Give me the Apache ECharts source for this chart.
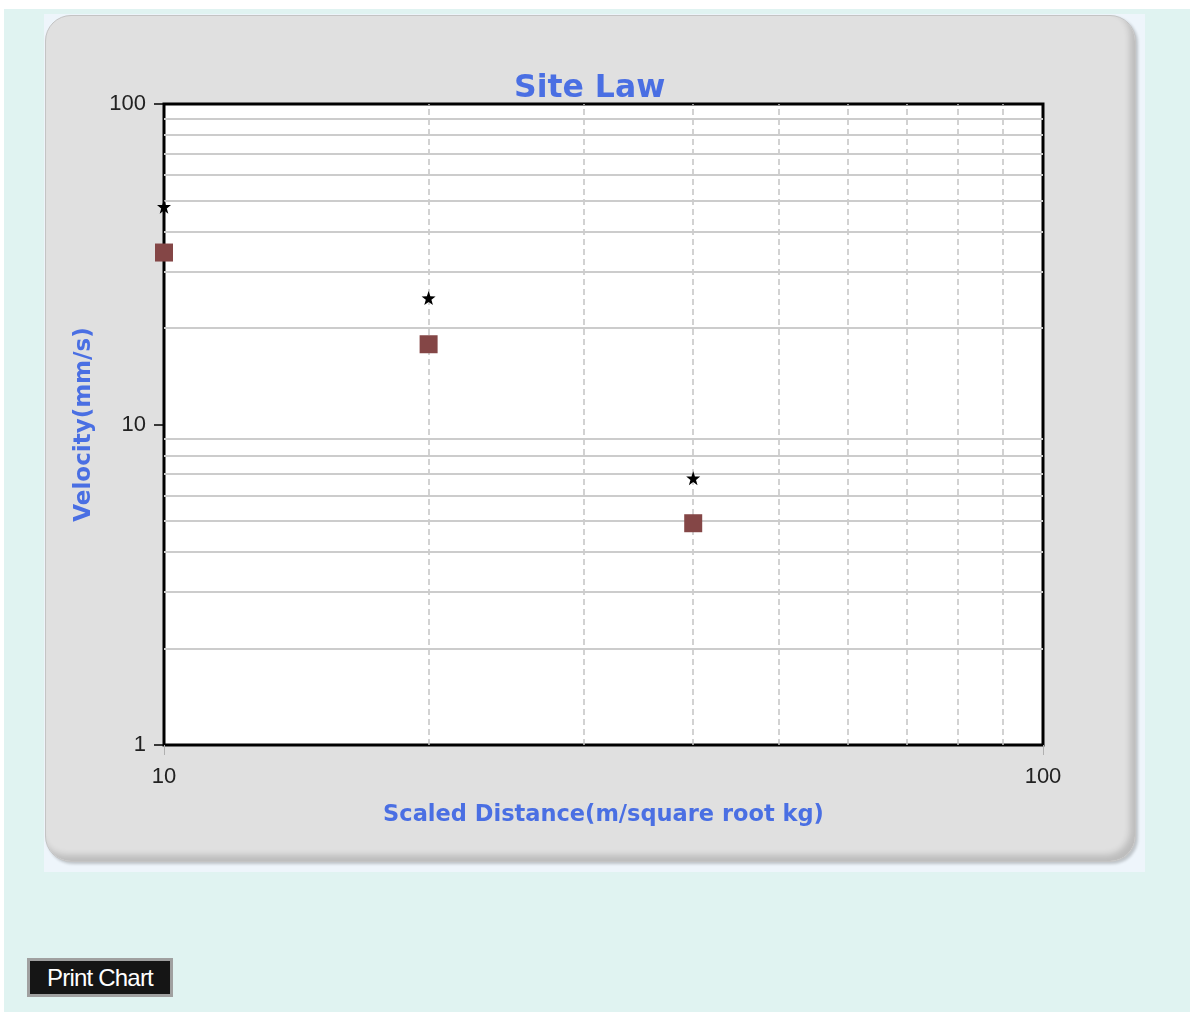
<!DOCTYPE html>
<html>
<head>
<meta charset="utf-8">
<title>Site Law</title>
<script src="https://cdn.jsdelivr.net/npm/echarts@6/dist/echarts.min.js"></script>
<style>
  html, body { margin: 0; padding: 0; background: #fff; }
  .page {
    position: absolute; left: 4px; top: 9px; width: 1186px; height: 1003px;
    background: #e0f3f1;
  }
  .panel-back {
    position: absolute; left: 44px; top: 14px; width: 1101px; height: 858px;
    background: #eef5fb;
  }
  .panel {
    position: absolute; left: 45px; top: 15px; width: 1089px; height: 845px;
    background: #e0e0e0;
    border: 1px solid #c4c4c4;
    border-radius: 26px;
    box-shadow: inset -5px -6px 6px rgba(0, 0, 0, 0.16), 2px 2px 3px rgba(0, 0, 0, 0.2);
  }
  .chart-box {
    position: absolute; left: 0; top: 0; width: 1190px; height: 1012px;
  }
  .print-btn {
    position: absolute; left: 27px; top: 958px; width: 146px; height: 39px;
    box-sizing: border-box;
    background: #151515;
    border: 3px solid #a0a0a0;
    color: #fff;
    font: 24px "Liberation Sans", Arial, sans-serif;
    letter-spacing: -0.8px;
    line-height: 33px;
    text-align: center;
  }
</style>
</head>
<body>
<div class="page"></div>
<div class="panel-back"></div>
<div class="panel"></div>
<div id="chart" class="chart-box"></div>
<div class="print-btn">Print Chart</div>
<script>
// scaled distance of each blast
const distance = [10, 20, 40]
// measured velocity (squares)
const velocity = [34.4, 17.8, 4.92]
// predicted velocity (stars)
const predicted = [47.8, 24.8, 6.8]
// minor grid lines of the log axes
const xGridValues = [20, 30, 40, 50, 60, 70, 80, 90]
const yGridValues = [2, 3, 4, 5, 6, 7, 8, 9, 20, 30, 40, 50, 60, 70, 80, 90]

const starPath = "path://M0,-10L2.35,-3.24L9.51,-3.09L3.8,1.24L5.88,8.09L0,4L-5.88,8.09L-3.8,1.24L-9.51,-3.09L-2.35,-3.24Z"

const chart = echarts.init(document.getElementById("chart"))

const gridLines = []
xGridValues.forEach((v) => {
  gridLines.push({
    xAxis: v,
    lineStyle: { color: "#c4c4c4", width: 1.5, type: [6, 4] },
  })
})
yGridValues.forEach((v) => {
  gridLines.push({
    yAxis: v,
    lineStyle: { color: "#cccccc", width: 2, type: "solid" },
  })
})

const option = {
  animation: false,
  title: {
    text: "Site Law",
    left: 509,
    top: 68,
    textStyle: {
      fontFamily: "DejaVu Sans",
      fontWeight: "bold",
      fontSize: 31.5,
      color: "#4a6fe3",
    },
  },
  grid: {
    left: 164,
    top: 104,
    width: 879,
    height: 641,
    show: true,
    backgroundColor: "#fff",
    borderColor: "#000",
    borderWidth: 3,
  },
  xAxis: {
    type: "log",
    logBase: 10,
    min: 10,
    max: 100,
    name: "Scaled Distance(m/square root kg)",
    nameLocation: "middle",
    nameGap: 59,
    nameTextStyle: {
      fontFamily: "DejaVu Sans",
      fontWeight: "bold",
      fontSize: 22.5,
      color: "#4a6fe3",
    },
    axisLine: { show: false },
    axisTick: { show: true, length: 10, lineStyle: { color: "#b0b0b0", width: 1 } },
    axisLabel: {
      margin: 21,
      fontFamily: "Liberation Sans",
      fontSize: 22,
      color: "#222",
    },
    splitLine: { show: false },
  },
  yAxis: {
    type: "log",
    logBase: 10,
    min: 1,
    max: 100,
    name: "Velocity(mm/s)",
    nameLocation: "middle",
    nameGap: 68,
    nameTextStyle: {
      fontFamily: "DejaVu Sans",
      fontWeight: "bold",
      fontSize: 23,
      color: "#4a6fe3",
    },
    axisLine: { show: false },
    axisTick: { show: true, length: 10, lineStyle: { color: "#000", width: 1.5 } },
    axisLabel: {
      margin: 18,
      fontFamily: "Liberation Sans",
      fontSize: 22,
      color: "#222",
    },
    splitLine: { show: false },
  },
  series: [
    {
      name: "grid",
      type: "scatter",
      data: [],
      z: 1,
      silent: true,
      markLine: {
        silent: true,
        z: 1,
        symbol: "none",
        label: { show: false },
        animation: false,
        data: gridLines,
      },
    },
    {
      name: "Measured",
      type: "scatter",
      z: 10,
      symbol: "rect",
      symbolSize: 18,
      itemStyle: { color: "#844646", opacity: 1 },
      data: distance.map((d, i) => [d, velocity[i]]),
    },
    {
      name: "Predicted",
      type: "scatter",
      z: 11,
      symbol: starPath,
      symbolSize: 14,
      itemStyle: { color: "#000", opacity: 1 },
      data: distance.map((d, i) => [d, predicted[i]]),
    },
  ],
}
chart.setOption(option)
</script>
</body>
</html>
